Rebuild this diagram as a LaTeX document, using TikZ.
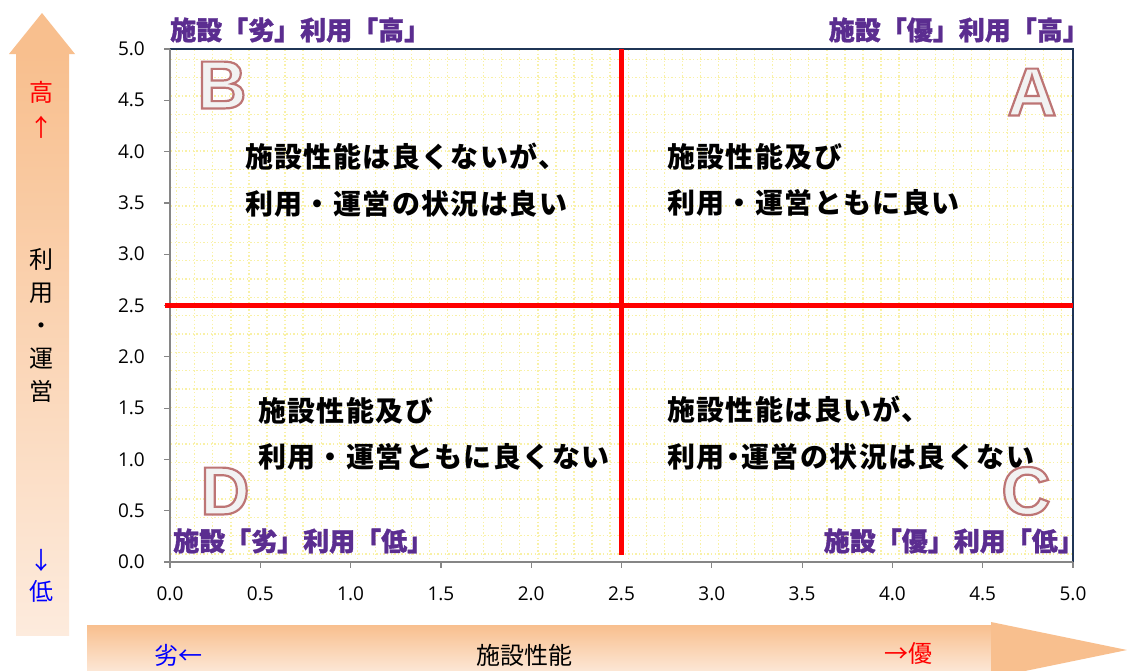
\documentclass[tikz,border=0pt]{standalone}
\usepackage{fontspec}
\setmainfont{Open Sans}
\newfontfamily\jp{Noto Sans CJK JP}
\newfontfamily\jpheavy{Noto Sans CJK JP}[FakeBold=1.3]
\newfontfamily\letterf{Liberation Sans}
\usetikzlibrary{calc}
\definecolor{arrowor}{HTML}{F8BF8E}
\definecolor{arrowlt}{HTML}{FDEBDD}
\definecolor{gridy}{HTML}{F9F1A6}
\definecolor{frameblue}{HTML}{1F3556}
\definecolor{axisgray}{HTML}{868686}
\definecolor{cornerpurple}{HTML}{5B2D90}
\definecolor{letterfill}{HTML}{F2F2F2}
\definecolor{jblue}{HTML}{0000FF}
\definecolor{jred}{HTML}{FF0000}
\newcommand\outlined[1]{\special{pdf:literal direct 2 Tr 2.2 w 0.74 0.46 0.46 RG}#1\special{pdf:literal direct 0 Tr 0.4 w}}
\begin{document}
\begin{tikzpicture}[x=1pt,y=-1pt,
  quad/.style={font=\jp\bfseries\addfontfeature{LetterSpace=5}\fontsize{28}{46.5}\selectfont, anchor=west, inner sep=0pt, align=left},
  cornerlbl/.style={font=\jpheavy\bfseries\fontsize{26}{26}\selectfont, text=cornerpurple, inner sep=0pt},
  ticklbl/.style={font=\fontsize{19}{19}\selectfont, inner sep=0pt},
  sidejp/.style={font=\jp\fontsize{24}{33}\selectfont, inner sep=0pt, align=center},
  gridline/.style={gridy, line width=1.3pt, dash pattern=on 1.4pt off 2.2pt},
  divider/.style={jred, line width=5pt},
  letterface/.style={font=\letterf\bfseries\fontsize{68}{68}\selectfont, inner sep=0pt, text=letterfill}
]
\useasboundingbox (0,0) rectangle (1127,670);
\fill[white] (0,0) rectangle (1127,670);

% ---- side arrows ----
\shade[top color=arrowor, middle color=arrowor, bottom color=arrowlt]
  (16,54) -- (16,635) -- (69,635) -- (69,54) -- cycle;
\fill[arrowor] (9,54) -- (42,13) -- (75,54) -- cycle;
\begin{scope}
\clip (0,0) rectangle (1127,670);
\shade[top color=arrowor, middle color=arrowor, bottom color=arrowlt]
  (87,625) rectangle (992,676);
\fill[arrowor] (991,622) -- (1127,650) -- (991,678) -- cycle;
\end{scope}

% ---- grid ----
\foreach \i in {0,...,49} {\draw[gridline] ({176.7+18.06*\i},50) -- ({176.7+18.06*\i},561);}
\foreach \k in {0,...,27} {\draw[gridline] (171,{59.3+18.32*\k}) -- (1072,{59.3+18.32*\k});}

% ---- frame and axes ----
\coordinate (o) at (170,562);
\coordinate (tl) at (170,49);
\coordinate (tr) at (1073,49);
\coordinate (br) at (1073,562);
\draw[frameblue, line width=1.2pt] (tl) -- (tr) -- (br);
\draw[axisgray, line width=1.5pt] (tl) -- (o) -- (br);
\foreach \k/\lab in {0/0.0,1/0.5,2/1.0,3/1.5,4/2.0,5/2.5,6/3.0,7/3.5,8/4.0,9/4.5,10/5.0} {
  \coordinate (yt\k) at (170,{562-51.3*\k});
  \draw[axisgray, line width=1.2pt] (yt\k) -- ++(-6,0);
  \node[ticklbl, anchor=east] (yl\k) at (145,{562-51.3*\k}) {\lab};
  \coordinate (xt\k) at ({170+90.3*\k},562);
  \draw[axisgray, line width=1.2pt] (xt\k) -- ++(0,6);
  \node[ticklbl] (xl\k) at ({170+90.3*\k},594) {\lab};
}

% ---- dividers ----
\coordinate (vtop) at (621.5,49);
\coordinate (vbot) at (621.5,555);
\coordinate (hl) at (165,305.5);
\coordinate (hr) at (1073,305.5);
\draw[divider] (vtop) -- (vbot);
\draw[divider] (hl) -- (hr);

% ---- corner labels ----
\node[cornerlbl, anchor=west] (lblB) at (170,30) {施設「劣」利用「高」};
\node[cornerlbl, anchor=east] (lblA) at (1089,30) {施設「優」利用「高」};
\node[cornerlbl, anchor=west] (lblD) at (173,541) {施設「劣」利用「低」};
\node[cornerlbl, anchor=east] (lblC) at (1084,541) {施設「優」利用「低」};

% ---- quadrant texts ----
\node[quad] (qB) at (245,180) {施設性能は良くないが、\\利用・運営の状況は良い};
\node[quad] (qA) at (667,180) {施設性能及び\\利用・運営ともに良い};
\node[quad] (qD) at (258,434) {施設性能及び\\利用・運営ともに良くない};
\node[quad] (qC) at (667,433) {施設性能は良いが、\\利用\makebox[0.6em]{・}運営の状況は良くない};

% ---- arrow texts ----
\node[sidejp, text=jred, font=\jp\fontsize{24}{34.5}\selectfont] (hi) at (41.7,110) {高\\↑};
\node[sidejp] (use) at (41.7,325) {利\\用\\・\\運\\営};
\node[sidejp, text=jblue, font=\jp\fontsize{24}{31}\selectfont] (lo) at (41.7,575.5) {↓\\低};
\node[sidejp, text=jblue] (worse) at (178,655) {劣←};
\node[sidejp] (perf) at (524,655) {施設性能};
\node[sidejp, text=jred] (better) at (908,653) {→優};

% ---- quadrant letters (white face, brown outline) ----
\node[letterface] (letB) at (222,85) {\outlined{B}};
\node[letterface] (letA) at (1032,92) {\outlined{A}};
\node[letterface] (letD) at (225,491) {\outlined{D}};
\node[letterface] (letC) at (1026,491) {\outlined{C}};
\end{tikzpicture}
\end{document}
